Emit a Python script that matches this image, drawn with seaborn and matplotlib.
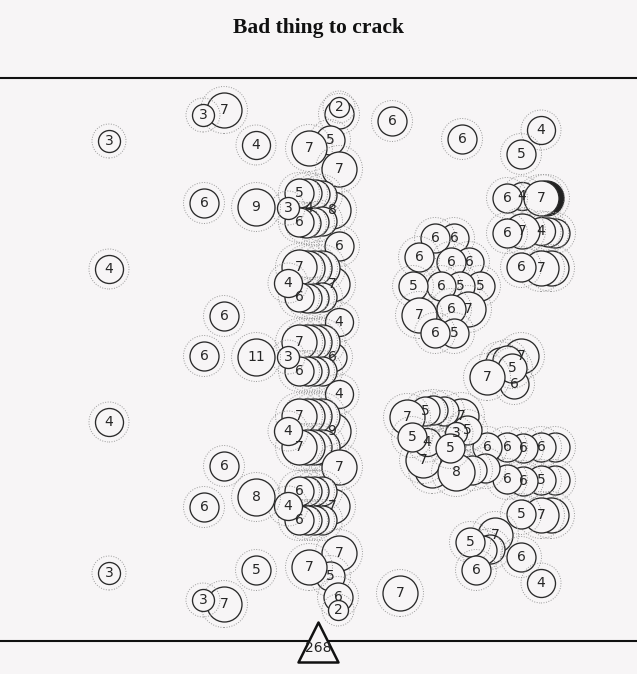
import pandas as pd
import seaborn as sns
import matplotlib.pyplot as plt

TITLE = "Bad thing to crack"
TOTAL = 268

# circles in drawing order (back to front), positions in chart pixels
xs = [339, 339, 330, 309, 339,
      309, 332, 322, 315, 307, 299, 322, 314, 306, 299, 288, 339,
      332, 322, 314, 307, 299, 322, 314, 307, 299, 288, 339,
      332, 322, 314, 307, 299, 322, 314, 307, 299, 288, 339,
      332, 322, 314, 307, 299, 322, 314, 307, 299, 288, 339,
      332, 322, 314, 307, 299, 322, 314, 307, 299, 288,
      339, 330, 309, 338, 338,
      109, 109, 109, 109,
      224, 203, 256, 204, 256, 224, 204, 256, 224, 204, 256, 256, 224, 203,
      392, 462, 541, 521, 400,
      522, 541, 507,
      555, 548, 541, 522, 507,
      551, 541, 521,
      454, 435, 469, 451, 419, 480, 460, 441, 413, 468, 451, 419, 454, 435,
      521, 514, 500, 507, 512, 487,
      461, 444, 433, 425, 407,
      555, 541, 523, 507, 487,
      555, 541, 523, 507,
      485, 472, 432, 423, 456, 467, 456, 427, 450, 412,
      551, 541, 521,
      495, 490, 482, 470, 476, 521, 541]
ys = [114, 107, 140, 148, 169,
      207.5, 210, 195, 194, 193, 193, 221, 222, 223, 222, 208, 246,
      284, 268, 268, 268, 267, 297, 298, 298, 297, 283, 322,
      357, 342, 342, 342, 342, 371, 371, 371, 371, 357, 394,
      431, 416, 416, 416, 416, 447, 447, 447, 447, 431, 467,
      506, 491, 491, 491, 491, 520, 520, 520, 520, 506,
      553, 576, 567, 597, 610,
      141, 269, 422, 573,
      110, 115, 145, 203, 207, 316, 356, 357, 466, 507, 497, 570, 604, 600,
      121, 139, 130, 154, 593,
      196, 198, 198,
      233, 232, 231, 231, 233,
      268, 268, 267,
      238, 238, 262, 262, 257, 286, 286, 286, 286, 309, 309, 315, 333, 333,
      356, 384, 362, 360, 368, 377,
      416, 411, 410, 411, 417,
      447, 447, 448, 447, 447,
      480, 480, 481, 479,
      468, 470, 470, 460, 472, 430, 433, 442, 448, 437,
      515, 515, 514,
      535, 549, 550, 542, 570, 557, 583]
vals = [6, 2, 5, 7, 7,
        4, 8, 6, 5, 5, 5, 6, 6, 6, 6, 3, 6,
        7, 7, 7, 7, 7, 6, 6, 6, 6, 4, 4,
        6, 7, 7, 7, 7, 6, 6, 6, 6, 3, 4,
        9, 7, 7, 7, 7, 7, 7, 7, 7, 4, 7,
        7, 6, 6, 6, 6, 6, 6, 6, 6, 4,
        7, 5, 7, 6, 2,
        3, 4, 4, 3,
        7, 3, 4, 6, 9, 6, 6, 11, 6, 6, 8, 5, 7, 3,
        6, 6, 4, 5, 7,
        4, 7, 6,
        6, 6, 4, 7, 6,
        7, 7, 6,
        6, 6, 6, 6, 6, 5, 5, 6, 5, 7, 6, 7, 5, 6,
        7, 6, 5, 5, 5, 7,
        7, 5, 5, 5, 7,
        6, 6, 6, 6, 6,
        6, 5, 6, 6,
        6, 6, 7, 7, 8, 5, 3, 4, 5, 5,
        7, 7, 5,
        7, 6, 6, 5, 6, 6, 4]

# one dark circle sitting behind the right-hand group
dark_x = [546]
dark_y = [198]
dark_v = [7]

RADIUS = {2: 10, 3: 11, 4: 14, 5: 14.5, 6: 14.5, 7: 17.5, 8: 18.5, 9: 18.5, 11: 18.5}
BG = "#f7f5f6"
PT = 0.72  # points per pixel at 100 dpi


def area(r):
    return (2 * r * PT) ** 2


def label_hidden(i):
    # a label is hidden when a later circle covers its centre
    for j in range(i + 1, len(xs)):
        d = ((xs[i] - xs[j]) ** 2 + (ys[i] - ys[j]) ** 2) ** 0.5
        if d < RADIUS[vals[j]]:
            return True
    return False


def draw_circle(ax, x, y, v, z, fill=BG):
    r = RADIUS[v]
    one = pd.DataFrame({"x": [x], "y": [y]})
    sns.scatterplot(data=one, x="x", y="y", ax=ax, s=area(r + 6), color="none",
                    edgecolor="#9a9a9a", linewidth=0.7, linestyle=(0, (1, 1.6)),
                    zorder=z, legend=False)
    sns.scatterplot(data=one, x="x", y="y", ax=ax, s=area(r), color=fill,
                    edgecolor="#2a2a2a", linewidth=0.95, zorder=z + 0.003,
                    legend=False)


def main():
    sns.set_theme(style="white")
    plt.rcParams["font.family"] = ["DejaVu Sans"]

    fig = plt.figure(figsize=(6.37, 6.74), dpi=100, facecolor=BG)
    ax = fig.add_axes([0, 0, 1, 1])
    ax.set_facecolor(BG)
    ax.set_xlim(0, 637)
    ax.set_ylim(674, 0)
    ax.axis("off")

    ax.axhline(78, color="#111111", lw=1.5, zorder=1)
    ax.axhline(641, color="#111111", lw=1.5, zorder=1)

    for x, y, v in zip(dark_x, dark_y, dark_v):
        draw_circle(ax, x, y, v, 2, fill="#222222")

    for i, (x, y, v) in enumerate(zip(xs, ys, vals)):
        draw_circle(ax, x, y, v, 3 + i * 0.01)
        if not label_hidden(i):
            ax.text(x, y, str(v), ha="center", va="center", fontsize=10,
                    color="#262626", zorder=50)

    # total marker at the bottom
    sns.scatterplot(x=[318], y=[642], ax=ax, marker="^", s=(40 * PT) ** 2,
                    color=BG, edgecolor="#111111", linewidth=1.8, zorder=60,
                    legend=False)
    ax.text(318, 648, str(TOTAL), ha="center", va="center", fontsize=10,
            color="#222222", zorder=61)

    fig.text(0.5, 1 - 28 / 674, TITLE, ha="center", va="center", fontsize=15.5,
             fontweight="bold", family=["Liberation Serif", "DejaVu Serif"],
             color="#111111")

    fig.savefig("out.png", dpi=100, facecolor=BG)


if __name__ == "__main__":
    main()
